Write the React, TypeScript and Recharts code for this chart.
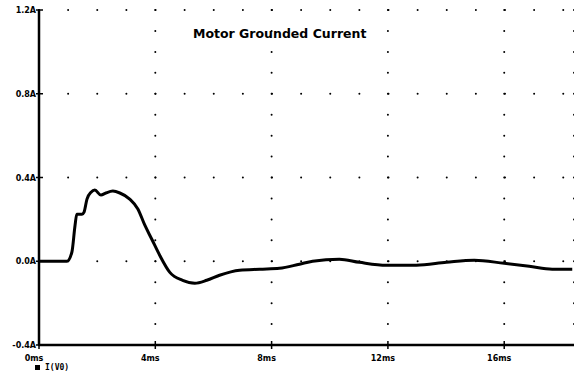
import React from 'react';
import { LineChart, Line, XAxis, YAxis, CartesianGrid } from 'recharts';

const timeMs = [0, 0.96, 1.13, 1.24, 1.3, 1.48, 1.55, 1.65, 1.79, 1.92, 2.13, 2.3, 2.54, 2.78, 3.12, 3.4, 3.64, 3.88, 4.15, 4.5, 4.94, 5.36, 5.77, 6.21, 6.9, 7.59, 8.27, 8.96, 9.41, 10.33, 11.02, 11.95, 12.98, 14.01, 14.97, 16.0, 16.86, 17.65, 18.34];
const currentA = [0, 0, 0.043, 0.172, 0.225, 0.225, 0.235, 0.297, 0.33, 0.34, 0.316, 0.326, 0.335, 0.326, 0.297, 0.25, 0.172, 0.105, 0.029, -0.053, -0.091, -0.105, -0.091, -0.067, -0.043, -0.038, -0.034, -0.014, 0, 0.01, -0.005, -0.019, -0.019, -0.005, 0.005, -0.01, -0.024, -0.038, -0.038];
const xTicks = [0, 4, 8, 12, 16];
const xTickLabels = ['0ms', '4ms', '8ms', '12ms', '16ms'];
const yTicks = [-0.4, 0, 0.4, 0.8, 1.2];
const yTickLabels = ['-0.4A', '0.0A', '0.4A', '0.8A', '1.2A'];
const title = 'Motor Grounded Current';
const legendLabel = 'I(V0)';

const data = timeMs.map((t, i) => ({ t, i: currentA[i] }));

const tickFont = { fontFamily: 'DejaVu Sans', fontWeight: 700, fontSize: 8, fill: '#000' };

const YTick = (props: any) => {
  const { x, y, payload } = props;
  const idx = yTicks.indexOf(payload.value);
  return (
    <g>
      <line x1={x - 3} x2={x + 4} y1={y} y2={y} stroke="#000" strokeWidth={1.5} />
      <text x={x - 3} y={y + 3} textAnchor="end" {...tickFont}>{yTickLabels[idx]}</text>
    </g>
  );
};

const XTick = (props: any) => {
  const { x, y, payload } = props;
  const idx = xTicks.indexOf(payload.value);
  return (
    <g>
      <line x1={x} x2={x} y1={y - 4} y2={y + 4} stroke="#000" strokeWidth={1.5} />
      <text x={x - 5} y={y + 16} textAnchor="middle" {...tickFont}>{xTickLabels[idx]}</text>
    </g>
  );
};

const TopTick = (props: any) => {
  const { x, y } = props;
  return <line x1={x} x2={x} y1={y - 4} y2={y + 4} stroke="#000" strokeWidth={1.5} />;
};

export default function App() {
  return (
    <div style={{ position: 'absolute', left: 0, top: 0, width: 574, height: 376, background: '#fff' }}>
      <LineChart width={574} height={376} data={data} margin={{ top: 10, right: 0, bottom: 0, left: 0 }}>
        <CartesianGrid vertical={false} stroke="#000" strokeWidth={2} strokeDasharray="0 29.125" strokeLinecap="round" />
        <CartesianGrid horizontal={false} stroke="#000" strokeWidth={2} strokeDasharray="0 20.94" strokeLinecap="round" />
        <XAxis
          xAxisId={0}
          type="number"
          dataKey="t"
          domain={[0, 18.4]}
          ticks={xTicks}
          allowDataOverflow
          height={31}
          tickSize={0}
          tickMargin={0}
          tickLine={false}
          axisLine={{ stroke: '#000', strokeWidth: 2.5 }}
          tick={<XTick />}
          interval={0}
        />
        <XAxis
          xAxisId="top"
          orientation="top"
          type="number"
          dataKey="t"
          domain={[0, 18.4]}
          ticks={xTicks}
          allowDataOverflow
          height={0}
          tickSize={0}
          tickMargin={0}
          tickLine={false}
          axisLine={{ stroke: '#000', strokeWidth: 2.5 }}
          tick={<TopTick />}
          interval={0}
        />
        <YAxis
          type="number"
          domain={[-0.4, 1.2]}
          ticks={yTicks}
          allowDataOverflow
          width={39}
          tickSize={0}
          tickMargin={0}
          tickLine={false}
          axisLine={{ stroke: '#000', strokeWidth: 2.5 }}
          tick={<YTick />}
          interval={0}
        />
        <Line
          type="monotone"
          dataKey="i"
          stroke="#000"
          strokeWidth={3}
          dot={false}
          isAnimationActive={false}
        />
      </LineChart>
      <div style={{ position: 'absolute', left: 193, top: 26, fontFamily: 'DejaVu Sans', fontWeight: 700, fontSize: 12.5, whiteSpace: 'nowrap', color: '#000' }}>
        {title}
      </div>
      <div style={{ position: 'absolute', left: 35, top: 363, display: 'flex', alignItems: 'center', fontFamily: 'DejaVu Sans Mono', fontWeight: 700, fontSize: 8, color: '#000' }}>
        <span style={{ display: 'inline-block', width: 5, height: 5, background: '#000', marginRight: 5 }} />
        <span>{legendLabel}</span>
      </div>
    </div>
  );
}
